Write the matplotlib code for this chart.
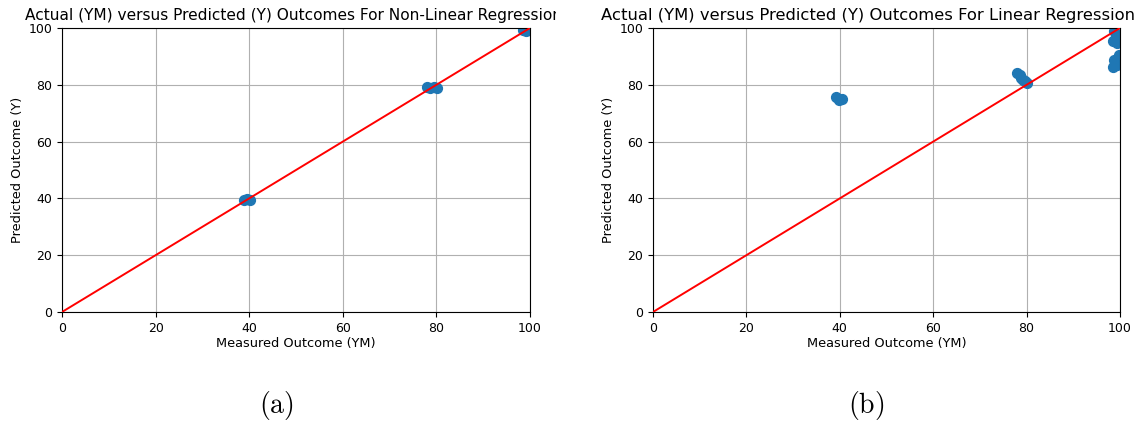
import matplotlib
matplotlib.use('Agg')
import matplotlib.pyplot as plt
from matplotlib.transforms import Bbox, TransformedBbox

# panel (a): non-linear regression, measured vs predicted
nl_measured = [38.8, 39.5, 40.2, 78.0, 78.7, 79.4, 80.2, 98.6, 99.2, 99.8]
nl_predicted = [39.4, 39.9, 39.6, 79.3, 79.0, 79.2, 78.9, 99.2, 99.0, 99.4]

# panel (b): linear regression, measured vs predicted
lin_measured = [39.2, 39.8, 40.4, 78.0, 78.5, 78.9, 79.2, 79.6, 80.0,
                98.8, 99.1, 98.6, 99.4, 99.7, 98.7, 99.0, 98.5, 99.3, 99.6, 99.8]
lin_predicted = [75.6, 74.5, 75.0, 84.2, 83.3, 82.5, 81.6, 81.2, 80.6,
                 99.0, 97.2, 95.4, 94.6, 96.0, 88.6, 87.2, 86.4, 87.0, 89.0, 90.6]

ideal = [0, 100]
ticks = [0, 20, 40, 60, 80, 100]

titles = ['Actual (YM) versus Predicted (Y) Outcomes For Non-Linear Regression',
          'Actual (YM) versus Predicted (Y) Outcomes For Linear Regression']
captions = ['(a)', '(b)']

plt.rcParams['mathtext.fontset'] = 'cm'

W, H = 1141, 421
fig = plt.figure(figsize=(W / 100, H / 100), dpi=100)

# axes boxes in pixels: left, right, top, bottom
boxes = [(62, 530, 28, 312), (653, 1120, 28, 312)]
title_x = [25, 601]
title_size = [11.1, 11.8]
clip_x = [(0, 556), (570, 1141)]
data = [(nl_measured, nl_predicted), (lin_measured, lin_predicted)]

for i in range(2):
    l, r, t, b = boxes[i]
    ax = fig.add_axes([l / W, 1 - b / H, (r - l) / W, (b - t) / H])
    xs, ys = data[i]
    ax.scatter(xs, ys, s=50, color='#1f77b4', zorder=2)
    ax.plot(ideal, ideal, color='red', linewidth=1.4, zorder=3)
    ax.set_xlim(0, 100)
    ax.set_ylim(0, 100)
    ax.set_xticks(ticks)
    ax.set_yticks(ticks)
    ax.tick_params(labelsize=9)
    ax.grid(True, zorder=0)
    ax.set_axisbelow(True)
    ax.set_xlabel('Measured Outcome (YM)', fontsize=9.3, labelpad=2)
    ax.set_ylabel('Predicted Outcome (Y)', fontsize=9.3, labelpad=3)
    ttl = fig.text(title_x[i] / W, 1 - 20 / H, titles[i], fontsize=title_size[i],
                   ha='left', va='baseline')
    cb = Bbox([[clip_x[i][0] / W, 0], [clip_x[i][1] / W, 1]])
    ttl.set_clip_box(TransformedBbox(cb, fig.transFigure))
    ttl.set_clip_on(True)
    fig.text(((l + r) / 2 - 20) / W, 1 - 405 / H, r'$\mathrm{' + captions[i] + '}$',
             ha='center', va='center', fontsize=20)

fig.savefig('out.png', dpi=100)
